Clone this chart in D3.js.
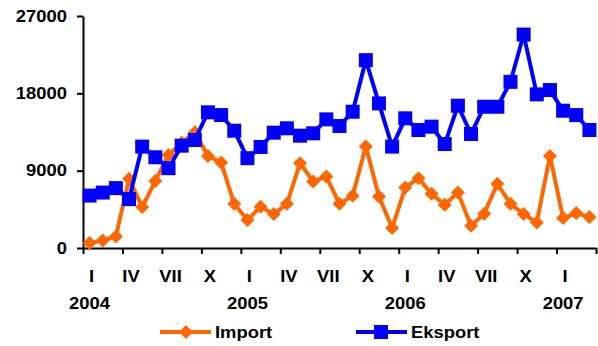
<!DOCTYPE html>
<html>
<head>
<meta charset="utf-8">
<script src="https://cdn.jsdelivr.net/npm/d3@7"></script>
<style>
  body { margin: 0; background: #fff; }
  text { font-family: "Liberation Sans", Arial, sans-serif; font-weight: bold; font-size: 16px; fill: #000; }
</style>
</head>
<body>
<div id="chart"></div>
<script>
// monthly values, I 2004 .. III 2007
const monthLabels = ['I', 'IV', 'VII', 'X'];
const years = ['2004', '2005', '2006', '2007'];
const yTicks = [0, 9000, 18000, 27000];
const importVals = [580, 880, 1350, 8050, 4760, 7810, 10830, 12260, 13470, 10720, 9940, 5140,
  3250, 4800, 3950, 5140, 9870, 7740, 8310, 5140, 6070, 11800, 5990, 2320,
  7040, 8130, 6300, 5030, 6460, 2590, 3980, 7470, 5140, 3950, 2970, 10720,
  3480, 4060, 3600];
const eksportVals = [6100, 6450, 6970, 5690, 11800, 10560, 9290, 11910, 12570, 15790, 15470, 13650,
  10450, 11760, 13420, 13930, 13070, 13350, 14970, 14200, 15860, 21860, 16830, 11800,
  15090, 13730, 14120, 12100, 16560, 13270, 16440, 16440, 19340, 24840, 17880, 18380,
  15980, 15470, 13730];

const W = 598, H = 346;
const stretch = 1.15; // original text looks a bit wide

const svg = d3.select('#chart').append('svg')
  .attr('width', W)
  .attr('height', H);

const n = importVals.length;
const x = d3.scaleLinear().domain([0, n]).range([83, 596]);
const y = d3.scaleLinear().domain([0, 27000]).range([248, 16]);

// Axes
let yAxisG = svg.append('g').attr('transform', 'translate(83,0)')
  .call(d3.axisLeft(y).tickValues(yTicks).tickSize(6).tickSizeOuter(0).tickPadding(8).tickFormat(d3.format('d')));
yAxisG.select('.domain').attr('stroke', '#000').attr('stroke-width', 2);
yAxisG.selectAll('.tick line').attr('stroke', '#000').attr('stroke-width', 2);
yAxisG.selectAll('.tick text')
  .attr('transform', `scale(${stretch},1)`)
  .style('font-size', '16px')
  .style('font-family', '"Liberation Sans", Arial, sans-serif');

const boundaries = d3.range(0, n + 1, 3);
let xAxisG = svg.append('g').attr('transform', `translate(0,${y(0)})`)
  .call(d3.axisBottom(x).tickValues(boundaries).tickSize(6).tickSizeOuter(0).tickFormat(''));
xAxisG.select('.domain').attr('stroke', '#000').attr('stroke-width', 2);
xAxisG.selectAll('.tick line').attr('stroke', '#000').attr('stroke-width', 2);

// quarter labels and years
const labelG = svg.append('g');
d3.range(0, n, 3).forEach((m, k) => {
  labelG.append('text')
    .attr('transform', `translate(${x(m + 0.5) + 2},282) scale(${stretch},1)`)
    .attr('text-anchor', 'middle')
    .text(monthLabels[k % 4]);
});
years.forEach((yr, k) => {
  labelG.append('text')
    .attr('transform', `translate(${x(k * 12 + 0.5)},309) scale(${stretch},1)`)
    .attr('text-anchor', 'middle')
    .text(yr);
});

// Series
const line = d3.line().x((d, i) => x(i + 0.5)).y(d => y(d));
const diamond = 'M0,-7L7,0L0,7L-7,0Z';

function drawSeries(vals, color, shape) {
  const g = svg.append('g');
  g.append('path').datum(vals)
    .attr('d', line)
    .attr('fill', 'none')
    .attr('stroke', color)
    .attr('stroke-width', 4)
    .attr('stroke-linejoin', 'round');
  if (shape === 'diamond') {
    g.selectAll('path.mk').data(vals).enter().append('path')
      .attr('class', 'mk')
      .attr('d', diamond)
      .attr('transform', (d, i) => `translate(${x(i + 0.5)},${y(d)})`)
      .attr('fill', color);
  } else {
    g.selectAll('rect').data(vals).enter().append('rect')
      .attr('x', (d, i) => x(i + 0.5) - 7)
      .attr('y', d => y(d) - 7)
      .attr('width', 14)
      .attr('height', 14)
      .attr('fill', color);
  }
}
drawSeries(importVals, '#FF6600', 'diamond');
drawSeries(eksportVals, '#0000FF', 'square');

// Legend
const legend = svg.append('g');
const items = [
  {name: 'Import', color: '#FF6600', shape: 'diamond', x0: 160},
  {name: 'Eksport', color: '#0000FF', shape: 'square', x0: 356}
];
items.forEach(it => {
  legend.append('line')
    .attr('x1', it.x0).attr('x2', it.x0 + 51)
    .attr('y1', 332).attr('y2', 332)
    .attr('stroke', it.color).attr('stroke-width', 4);
  if (it.shape === 'diamond') {
    legend.append('path').attr('d', diamond)
      .attr('transform', `translate(${it.x0 + 26},332)`)
      .attr('fill', it.color);
  } else {
    legend.append('rect')
      .attr('x', it.x0 + 25 - 7).attr('y', 325)
      .attr('width', 14).attr('height', 14)
      .attr('fill', it.color);
  }
  legend.append('text')
    .attr('transform', `translate(${it.x0 + 55},338) scale(${stretch},1)`)
    .text(it.name);
});
</script>
</body>
</html>
